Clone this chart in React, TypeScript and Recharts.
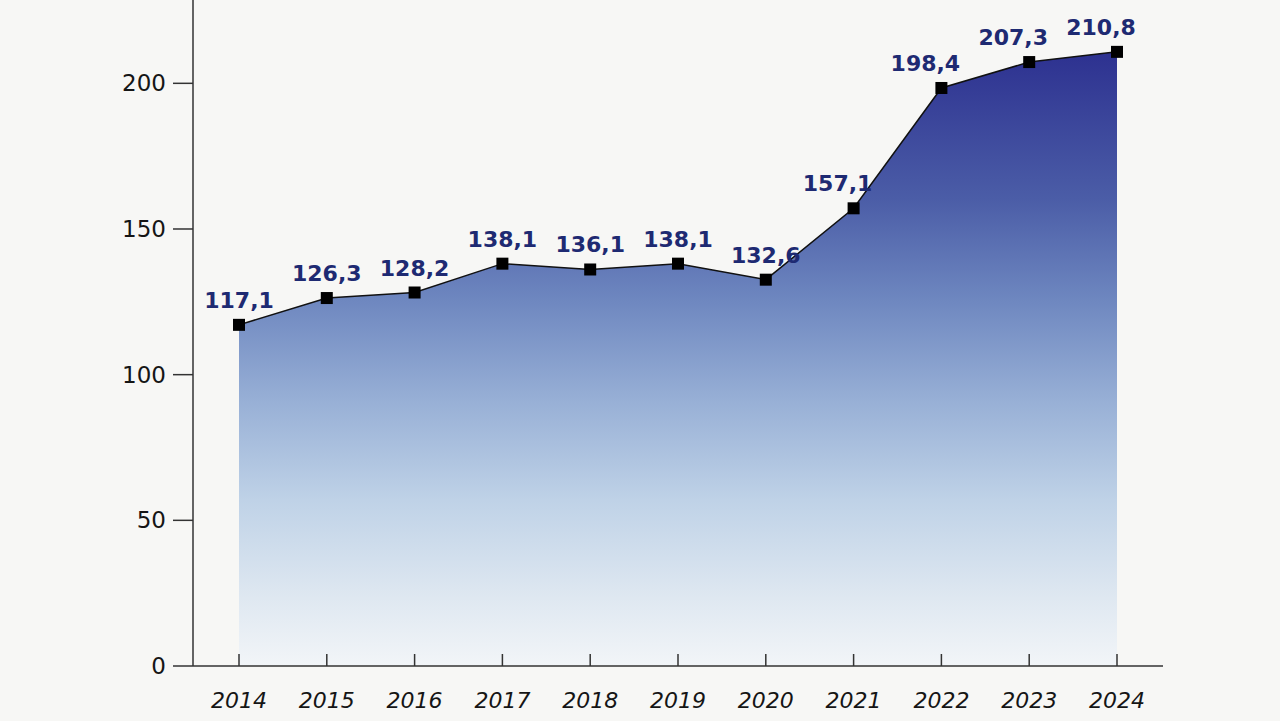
import React from 'react';
import { AreaChart, Area, XAxis, YAxis, LabelList } from 'recharts';

const years = ['2014', '2015', '2016', '2017', '2018', '2019', '2020', '2021', '2022', '2023', '2024'];
const values = [117.1, 126.3, 128.2, 138.1, 136.1, 138.1, 132.6, 157.1, 198.4, 207.3, 210.8];
const yTicks = [0, 50, 100, 150, 200];

const chartData = years.map((year, i) => ({ year, value: values[i] }));

const FONT = '"DejaVu Sans", sans-serif';

const XTick = (props: any) => {
  const { x, y, payload } = props;
  return (
    <g>
      <line x1={x} x2={x} y1={y - 12} y2={y} stroke="#333" strokeWidth={1.5} />
      <text
        x={x}
        y={y + 42}
        textAnchor="middle"
        fontFamily={FONT}
        fontStyle="italic"
        fontSize={22}
        fill="#151515"
      >
        {payload.value}
      </text>
    </g>
  );
};

const SquareDot = (props: any) => {
  const { cx, cy, index } = props;
  if (cx == null || cy == null) return null;
  return <rect key={`dot-${index}`} x={cx - 6} y={cy - 6} width={12} height={12} fill="#000" />;
};

// labels on the steep rise sit a little to the left of their point
const ValueLabel = (props: any) => {
  const { x, y, width, value, index } = props;
  const cx = x + (width || 0) / 2;
  const shift = index >= 7 ? -16 : 0;
  return (
    <text
      x={cx + shift}
      y={y - 17}
      textAnchor="middle"
      fontFamily={FONT}
      fontSize={22}
      fontWeight={700}
      fill="#1e2a72"
    >
      {String(value).replace('.', ',')}
    </text>
  );
};

export default function App() {
  return (
    <div style={{ position: 'absolute', top: 0, left: 0, width: 1280, height: 721, background: '#f7f7f5' }}>
      <AreaChart
        width={1280}
        height={721}
        data={chartData}
        margin={{ top: 0, right: 117, bottom: 0, left: 0 }}
      >
        <defs>
          <linearGradient id="areaFill" x1="0" y1="0" x2="0" y2="1">
            <stop offset="0%" stopColor="#2d3190" />
            <stop offset="24%" stopColor="#4b5da7" />
            <stop offset="40%" stopColor="#6d86bf" />
            <stop offset="57%" stopColor="#98b0d6" />
            <stop offset="73%" stopColor="#bfd2e7" />
            <stop offset="89%" stopColor="#dfe8f1" />
            <stop offset="100%" stopColor="#f2f5f8" />
          </linearGradient>
        </defs>
        <XAxis
          dataKey="year"
          height={55}
          padding={{ left: 46, right: 46 }}
          axisLine={{ stroke: '#333', strokeWidth: 1.5 }}
          tickLine={false}
          tickSize={0}
          tickMargin={0}
          tick={<XTick />}
          interval={0}
        />
        <YAxis
          width={193}
          domain={[0, 228.6]}
          ticks={yTicks}
          axisLine={{ stroke: '#333', strokeWidth: 1.5 }}
          tickLine={{ stroke: '#333', strokeWidth: 1.5 }}
          tickSize={20}
          tickMargin={7}
          tick={{ fontFamily: FONT, fontSize: 23, fill: '#151515' }}
        />
        <Area
          type="linear"
          dataKey="value"
          stroke="#111"
          strokeWidth={1.5}
          fill="url(#areaFill)"
          fillOpacity={1}
          dot={<SquareDot />}
          activeDot={false}
          isAnimationActive={false}
        >
          <LabelList dataKey="value" content={<ValueLabel />} />
        </Area>
      </AreaChart>
    </div>
  );
}
